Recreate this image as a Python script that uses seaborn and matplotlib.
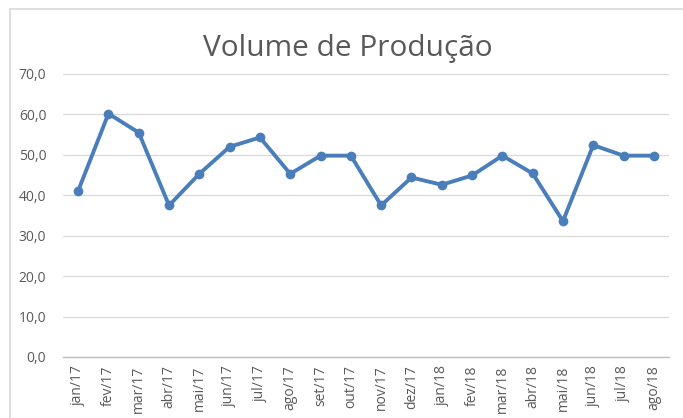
import matplotlib
matplotlib.use("Agg")
import matplotlib.pyplot as plt
import seaborn as sns
import pandas as pd
from matplotlib.ticker import FuncFormatter, FixedLocator
from matplotlib.lines import Line2D

# data
meses = ["jan/17", "fev/17", "mar/17", "abr/17", "mai/17", "jun/17", "jul/17",
         "ago/17", "set/17", "out/17", "nov/17", "dez/17", "jan/18", "fev/18",
         "mar/18", "abr/18", "mai/18", "jun/18", "jul/18", "ago/18"]
volume = [41.1, 60.2, 55.5, 37.5, 45.3, 52.0, 54.3, 45.3, 49.8, 49.8,
          37.5, 44.4, 42.6, 44.9, 49.8, 45.4, 33.6, 52.4, 49.8, 49.8]

df = pd.DataFrame({"mes": meses, "volume": volume})

sns.set_style("white")
plt.rcParams['font.family'] = ['Open Sans', 'DejaVu Sans']

fig = plt.figure(figsize=(6.83, 4.18), dpi=100)
ax = fig.add_axes([63/683, 1 - 357/418, (669 - 63)/683, (357 - 74)/418])

sns.lineplot(data=df, x="mes", y="volume", ax=ax, color="#4A7EBB",
             linewidth=2.8, marker="o", markersize=7, markeredgewidth=0, sort=False)

ax.set_ylim(0, 70)
ax.set_xlim(-0.5, len(meses) - 0.5)
ax.set_yticks(range(0, 71, 10))
ax.yaxis.set_major_formatter(FuncFormatter(lambda v, p: f"{v:.1f}".replace(".", ",")))
ax.grid(axis="y", color="#D9D9D9", linewidth=0.9)
ax.set_axisbelow(True)

ax.set_xticks(range(len(meses)))
ax.set_xticklabels(meses, rotation=90)
ax.xaxis.set_minor_locator(FixedLocator([i - 0.5 for i in range(len(meses) + 1)]))
ax.tick_params(axis="x", which="major", length=0, pad=6, labelsize=10, labelcolor="#595959")
ax.tick_params(axis="x", which="minor", length=5, color="#BFBFBF", width=1)
ax.tick_params(axis="y", length=0, pad=12, labelsize=10, labelcolor="#595959")
ax.set_xlabel("")
ax.set_ylabel("")

for s in ["top", "right", "left"]:
    ax.spines[s].set_visible(False)
ax.spines["bottom"].set_color("#BFBFBF")
ax.spines["bottom"].set_linewidth(1)

fig.text(348/683, 1 - 56/418, "Volume de Produção", ha="center", va="baseline",
         fontsize=21.5, color="#595959")

# chart frame
fig.add_artist(Line2D([10/683, 10/683], [0, 1 - 9/418], color="#D9D9D9", linewidth=1.2))
fig.add_artist(Line2D([10/683, 1], [1 - 9/418, 1 - 9/418], color="#D9D9D9", linewidth=1.2))

fig.savefig("out.png", dpi=100)
